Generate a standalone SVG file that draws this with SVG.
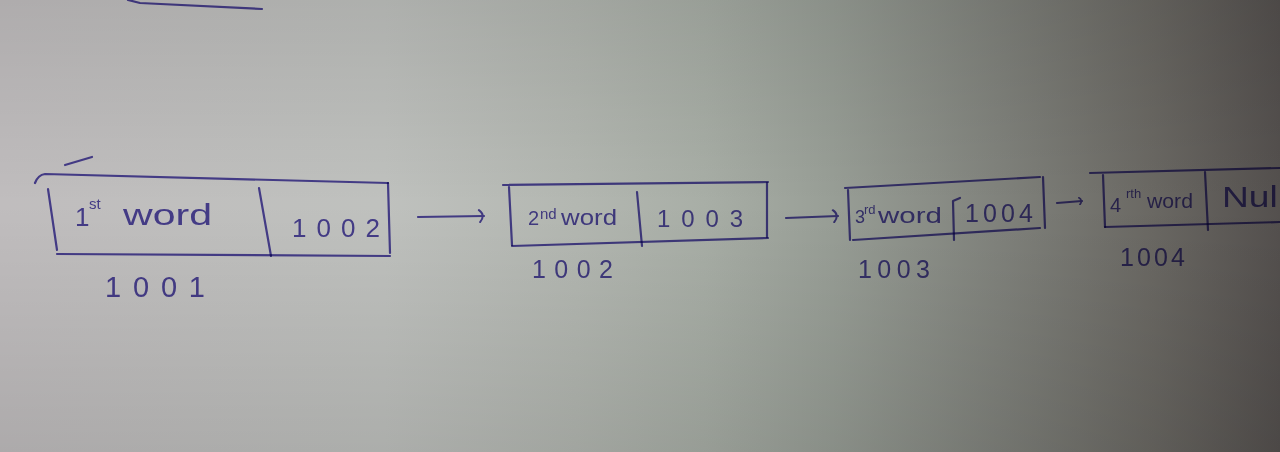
<svg xmlns="http://www.w3.org/2000/svg" width="1280" height="452" viewBox="0 0 1280 452">
<defs>
<linearGradient id="bgH" x1="0" y1="0" x2="1" y2="0">
<stop offset="0" stop-color="#c0bdbe"/>
<stop offset="0.3" stop-color="#bfc1be"/>
<stop offset="0.45" stop-color="#b3b7b1"/>
<stop offset="0.55" stop-color="#a8aea6"/>
<stop offset="0.65" stop-color="#989e96"/>
<stop offset="0.78" stop-color="#80827c"/>
<stop offset="0.9" stop-color="#6a6863"/>
<stop offset="1" stop-color="#54504e"/>
</linearGradient>
<linearGradient id="bgV" x1="0" y1="0" x2="0" y2="1">
<stop offset="0" stop-color="#000" stop-opacity="0.09"/>
<stop offset="0.45" stop-color="#000" stop-opacity="0"/>
<stop offset="1" stop-color="#000" stop-opacity="0.1"/>
</linearGradient>
<marker id="paren" viewBox="0 0 10 14" refX="7" refY="7" markerWidth="10" markerHeight="14" orient="auto" markerUnits="userSpaceOnUse">
<path d="M2,1 Q9,6 3,13" fill="none" stroke="#5a4fb4" stroke-width="2" stroke-linecap="round"/>
</marker>
<marker id="parenS" viewBox="0 0 10 14" refX="7" refY="7" markerWidth="6" markerHeight="8" orient="auto" markerUnits="userSpaceOnUse">
<path d="M2,1 Q9,6 3,13" fill="none" stroke="#5a4fb4" stroke-width="3" stroke-linecap="round"/>
</marker>
</defs>
<style>
.ink{stroke:#5a4fb4;stroke-width:2.2;fill:none;stroke-linecap:round;stroke-linejoin:round;mix-blend-mode:multiply}
.t{fill:#5a4fb4;font-family:"Liberation Sans",Arial,sans-serif;mix-blend-mode:multiply}
</style>
<rect x="0" y="0" width="1280" height="452" fill="url(#bgH)"/>
<rect x="0" y="0" width="1280" height="452" fill="url(#bgV)"/>

<path class="ink" d="M128,0 L140,3 L262,9"/>

<g id="node1">
<path class="ink" d="M65,165 L92,157"/>
<path class="ink" d="M35,183 Q38,175 45,174 L388,183"/>
<path class="ink" d="M48,189 L57,250"/>
<path class="ink" d="M57,254 L390,256"/>
<path class="ink" d="M388,183 L390,253"/>
<path class="ink" d="M259,188 L271,256"/>
<text class="t" x="75" y="226" font-size="26">1</text>
<text class="t" x="89" y="209" font-size="15">st</text>
<text class="t" x="123" y="225" font-size="29" textLength="89" lengthAdjust="spacingAndGlyphs">word</text>
<text class="t" x="292" y="237" font-size="26" textLength="88">1002</text>
<text class="t" x="105" y="297" font-size="29" textLength="100">1001</text>
</g>

<g id="node2">
<path class="ink" d="M503,185 L768,182"/>
<path class="ink" d="M509,187 L512,245"/>
<path class="ink" d="M512,246 L768,238"/>
<path class="ink" d="M767,183 L767,237"/>
<path class="ink" d="M637,192 L642,246"/>
<text class="t" x="528" y="225" font-size="20">2</text>
<text class="t" x="540" y="219" font-size="15">nd</text>
<text class="t" x="561" y="225" font-size="22" textLength="56" lengthAdjust="spacingAndGlyphs">word</text>
<text class="t" x="657" y="227" font-size="24" textLength="86">1003</text>
<text class="t" x="532" y="278" font-size="25" textLength="81">1002</text>
</g>

<g id="node3">
<path class="ink" d="M845,188 L1040,177"/>
<path class="ink" d="M848,190 L850,240"/>
<path class="ink" d="M853,240 L1040,228"/>
<path class="ink" d="M1043,177 L1045,228"/>
<path class="ink" d="M960,198 L953,201 L954,240"/>
<text class="t" x="855" y="223" font-size="18">3</text>
<text class="t" x="864" y="214" font-size="13">rd</text>
<text class="t" x="878" y="223" font-size="22" textLength="64" lengthAdjust="spacingAndGlyphs">word</text>
<text class="t" x="965" y="222" font-size="25" textLength="68">1004</text>
<text class="t" x="858" y="278" font-size="25" textLength="72">1003</text>
</g>

<g id="node4">
<path class="ink" d="M1090,173 L1280,168"/>
<path class="ink" d="M1103,175 L1105,227"/>
<path class="ink" d="M1105,227 L1280,222"/>
<path class="ink" d="M1205,172 L1208,230"/>
<text class="t" x="1110" y="212" font-size="20">4</text>
<text class="t" x="1126" y="198" font-size="13">rth</text>
<text class="t" x="1147" y="208" font-size="20" textLength="46" lengthAdjust="spacingAndGlyphs">word</text>
<text class="t" x="1222" y="207" font-size="30" textLength="64" lengthAdjust="spacingAndGlyphs">Null</text>
<text class="t" x="1120" y="266" font-size="25" textLength="65">1004</text>
</g>

<g id="connectors">
<path class="ink" d="M418,217 L484,216" marker-end="url(#paren)"/>
<path class="ink" d="M786,218 L838,216" marker-end="url(#paren)"/>
<path class="ink" d="M1057,203 L1082,201" marker-end="url(#parenS)"/>
</g>
</svg>
